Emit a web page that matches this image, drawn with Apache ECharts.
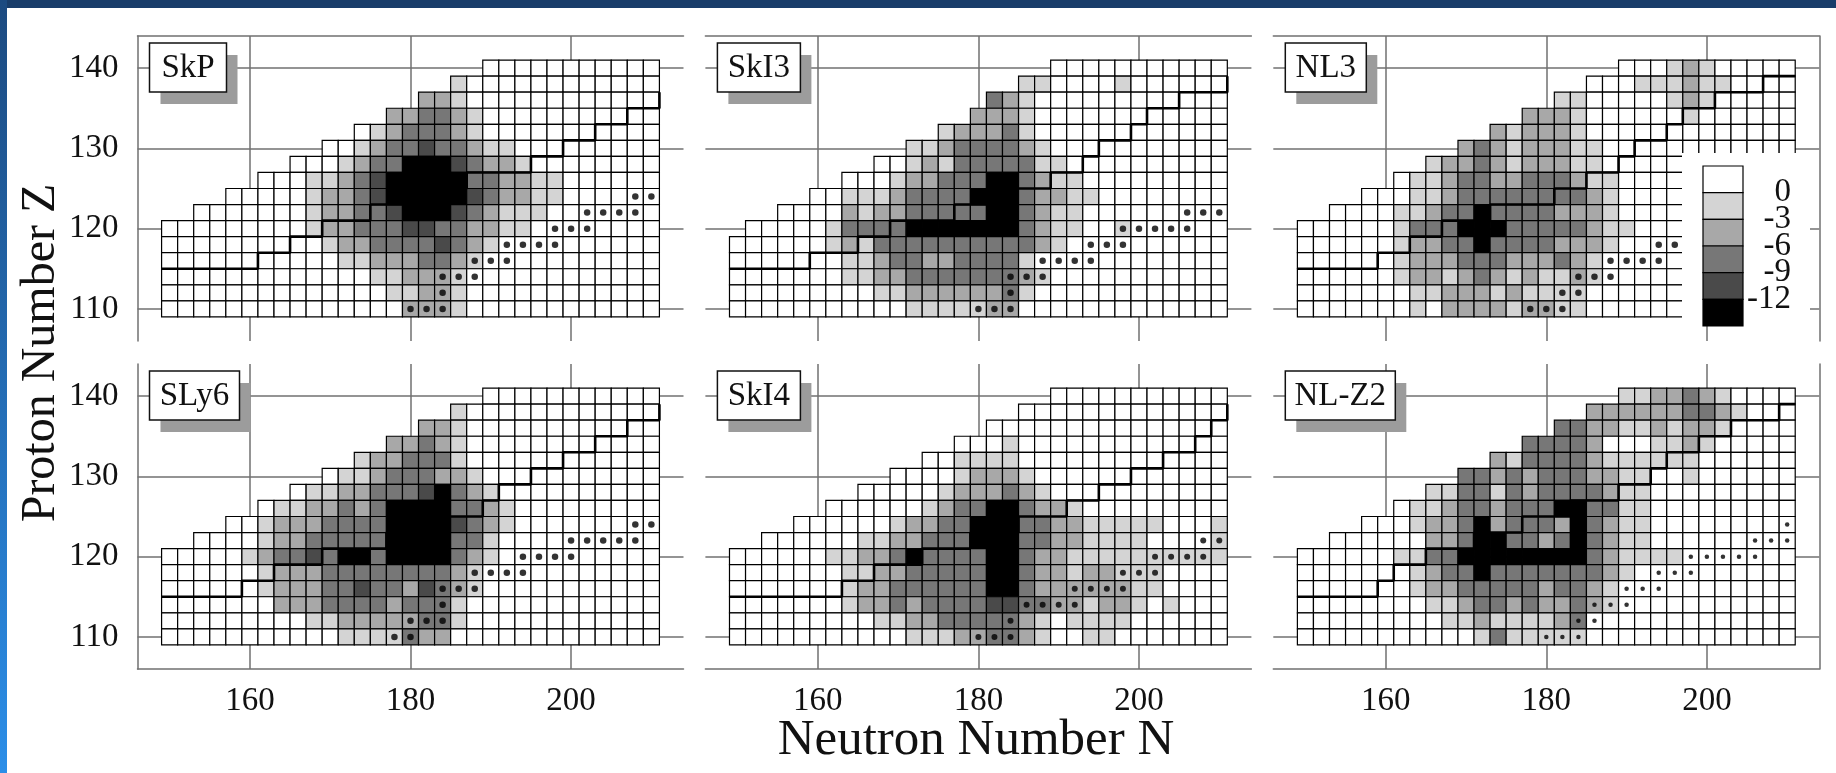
<!DOCTYPE html>
<html>
<head>
<meta charset="utf-8">
<script src="https://cdn.jsdelivr.net/npm/echarts@6/dist/echarts.min.js"></script>
<style>
  html, body { margin: 0; padding: 0; background: #fff; }
  #chart { position: absolute; left: 0; top: 0; width: 1836px; height: 773px; }
  #topbar { position: absolute; left: 0; top: 0; width: 1836px; height: 8px; background: #193d6a; }
  #leftbar { position: absolute; left: 0; top: 0; width: 7px; height: 773px;
             background: linear-gradient(#1c4a80, #2b8ee8); }
</style>
</head>
<body>
<div id="chart"></div>
<div id="topbar"></div>
<div id="leftbar"></div>
<script>
// even-even nuclei on the map: columns are N, rows are Z (top row first)
const neutronNumbers = [150, 152, 154, 156, 158, 160, 162, 164, 166, 168, 170, 172, 174, 176, 178, 180,
                        182, 184, 186, 188, 190, 192, 194, 196, 198, 200, 202, 204, 206, 208, 210];
const protonNumbers = [140, 138, 136, 134, 132, 130, 128, 126, 124, 122, 120, 118, 116, 114, 112, 110];
const neutronTicks = [160, 180, 200];
const protonTicks = [110, 120, 130, 140];
const colorbarTicks = [0, -3, -6, -9, -12];
const colorbarBands = [[3, 0], [0, -3], [-3, -6], [-6, -9], [-9, -12], [-12, -15]];

// shell correction band (MeV) for each digit used in the maps
const bandEnergy = [1.5, -1.5, -4.5, -7.5, -10.5, -13.5];

// each row: [first column on the map, first shaded column, band digits, end column]
// columns after the digits are unshaded (band 0)
const skpMap = [
  [20, 20, ''], [18, 18, '1'], [16, 16, '221'], [14, 14, '223321'],
  [12, 13, '1233321'], [10, 12, '1233433211'], [8, 11, '123355543221'],
  [6, 9, '1123455555332211'], [4, 9, '1223455555432211'], [2, 9, '122334555432111'],
  [0, 9, '12233344332211'], [0, 10, '12233334321'], [0, 11, '112223321'],
  [0, 13, '112221'], [0, 14, '11221'], [0, 15, '2221']
];
const ski3Map = [
  [20, 20, ''], [18, 18, '1100001'], [16, 16, '321'], [15, 15, '2221'],
  [13, 13, '122231'], [11, 11, '112333321'], [9, 11, '1213333311'],
  [7, 10, '122333553211'], [5, 7, '1112333355532211'], [3, 7, '212233333553211'],
  [1, 6, '1333355555553211001'], [0, 6, '121333333333321'], [0, 7, '112332233331'],
  [0, 7, '1122333333321'], [0, 9, '1122222231'], [0, 11, '1111122']
];
const nl3Map = [
  [20, 23, '121'], [18, 21, '111211'], [16, 16, '1100000121'], [14, 14, '22210000001'],
  [12, 12, '212221'], [10, 10, '232122211'], [8, 8, '12232122211', 24],
  [6, 7, '1123322333211', 24], [4, 7, '1123333333321', 24], [2, 6, '11233533332221', 24],
  [0, 6, '133355533333211', 24], [0, 6, '12233533332221', 24], [0, 6, '1222333222321', 24],
  [0, 6, '1221232121121', 24], [0, 7, '11222121111', 24], [0, 7, '10222212211', 24]
];
const sly6Map = [
  [20, 20, ''], [18, 18, '1'], [16, 16, '221'], [14, 14, '22321'],
  [12, 12, '1223331'], [10, 11, '112333221'], [8, 9, '112233345321'],
  [6, 7, '112232355553321'], [4, 6, '1222333355554321'], [2, 6, '122333335555331'],
  [0, 5, '1233435535555321'], [0, 6, '12223333333321'], [0, 6, '12223343324321'],
  [0, 7, '222333323331'], [0, 9, '1122222331'], [0, 11, '1111322']
];
const ski4Map = [
  [20, 20, ''], [18, 18, ''], [16, 16, ''], [14, 17, '1'],
  [12, 14, '1111'], [10, 14, '12221'], [8, 13, '1222321'],
  [6, 12, '1233553221'], [4, 10, '122335553322111110001'], [2, 8, '11223335553322111100001'],
  [0, 6, '1122353333553221111111111'], [0, 7, '11223333355322122111'], [0, 7, '12233333355322222211'],
  [0, 7, '122323333443322122101'], [0, 9, '1122333332101111'], [0, 11, '1112233210011']
];
const nlz2Map = [
  [20, 20, '1122321'], [18, 18, '2222223321'], [16, 16, '33221121221'], [14, 14, '333320001121'],
  [12, 12, '2133332111111'], [10, 10, '332323332211001'], [8, 8, '11331323333211'],
  [6, 7, '112332333553311'], [4, 7, '122352333253211'], [2, 8, '22355332353211'],
  [0, 6, '113355555555321111'], [0, 7, '12335333333321'], [0, 7, '1223333323321'],
  [0, 8, '112332322321'], [0, 9, '112111123'], [0, 11, '1311111']
];

// thick staircase line of each model
const skpStep = [[149,115],[161,115],[161,117],[165,117],[165,119],[169,119],[169,121],[175,121],[175,123],
  [181,123],[181,125],[187,125],[187,127],[195,127],[195,129],[199,129],[199,131],[203,131],[203,133],
  [207,133],[207,135],[211,135],[211,137]];
const ski3Step = [[149,115],[159,115],[159,117],[165,117],[165,119],[169,119],[169,121],[177,121],[177,123],
  [183,123],[183,125],[189,125],[189,127],[193,127],[193,129],[195,129],[195,131],[199,131],[199,133],
  [201,133],[201,135],[205,135],[205,137],[211,137],[211,139]];
const nl3Step = [[149,115],[159,115],[159,117],[163,117],[163,119],[167,119],[167,121],[173,121],[173,123],
  [181,123],[181,125],[185,125],[185,127],[189,127],[189,129],[191,129],[191,131],[195,131],[195,133],
  [197,133],[197,135],[201,135],[201,137],[207,137],[207,139],[211,139]];
const sly6Step = [[149,115],[159,115],[159,117],[163,117],[163,119],[169,119],[169,121],[177,121],[177,123],
  [183,123],[183,125],[189,125],[189,127],[191,127],[191,129],[195,129],[195,131],[199,131],[199,133],
  [203,133],[203,135],[207,135],[207,137],[211,137],[211,139]];
const ski4Step = [[149,115],[163,115],[163,117],[167,117],[167,119],[173,119],[173,121],[179,121],[179,123],
  [185,123],[185,125],[191,125],[191,127],[195,127],[195,129],[199,129],[199,131],[203,131],[203,133],
  [207,133],[207,135],[209,135],[209,137],[211,137],[211,139]];
const nlz2Step = [[149,115],[159,115],[159,117],[161,117],[161,119],[165,119],[165,121],[171,121],[171,123],
  [177,123],[177,125],[183,125],[183,127],[189,127],[189,129],[193,129],[193,131],[195,131],[195,133],
  [199,133],[199,135],[203,135],[203,137],[209,137],[209,139],[211,139]];

// marked nuclei
const skpDots = [[180,110],[182,110],[184,110],[184,112],[184,114],[186,114],[188,114],[188,116],[190,116],
  [192,116],[192,118],[194,118],[196,118],[198,118],[198,120],[200,120],[202,120],[202,122],[204,122],
  [206,122],[208,122],[208,124],[210,124]];
const ski3Dots = [[180,110],[182,110],[184,110],[184,112],[184,114],[186,114],[188,114],[188,116],[190,116],
  [192,116],[194,116],[194,118],[196,118],[198,118],[198,120],[200,120],[202,120],[204,120],[206,120],
  [206,122],[208,122],[210,122]];
const nl3Dots = [[178,110],[180,110],[182,110],[182,112],[184,112],[184,114],[186,114],[188,114],[188,116],
  [190,116],[192,116],[194,116],[194,118],[196,118]];
const sly6Dots = [[178,110],[180,110],[180,112],[182,112],[184,112],[184,114],[184,116],[186,116],[188,116],
  [188,118],[190,118],[192,118],[194,118],[194,120],[196,120],[198,120],[200,120],[200,122],[202,122],
  [204,122],[206,122],[208,122],[208,124],[210,124]];
const ski4Dots = [[180,110],[182,110],[184,110],[184,112],[186,114],[188,114],[190,114],[192,114],[192,116],
  [194,116],[196,116],[198,116],[198,118],[200,118],[202,118],[202,120],[204,120],[206,120],[208,120],
  [208,122],[210,122]];
const nlz2Dots = [[180,110],[182,110],[184,110],[184,112],[186,112],[186,114],[188,114],[190,114],[190,116],
  [192,116],[194,116],[194,118],[196,118],[198,118],[198,120],[200,120],[202,120],[204,120],[206,120],
  [206,122],[208,122],[210,122],[210,124]];

const modelNames = ['SkP', 'SkI3', 'NL3', 'SLy6', 'SkI4', 'NL-Z2'];
const maps = [skpMap, ski3Map, nl3Map, sly6Map, ski4Map, nlz2Map];
const steps = [skpStep, ski3Step, nl3Step, sly6Step, ski4Step, nlz2Step];
const dots = [skpDots, ski3Dots, nl3Dots, sly6Dots, ski4Dots, nlz2Dots];

// layout
const FONT = '"Liberation Serif", "Times New Roman", serif';
const gridLeft = [137.5, 705.4, 1273.3];
const gridTop = [36, 364];
const GW = 546, GH = 305;
const dotSize = [6.5, 6.5, 6.5, 6.5, 6, 4.5];
const boxWidth = [77, 83, 81, 90, 83, 110];
const bandColors = ['#ffffff', '#d4d4d4', '#a8a8a8', '#777777', '#4a4a4a', '#000000'];
const gridColor = '#707070';

function mapCells(map) {
  const out = [];
  map.forEach(function (row, k) {
    const lead = row[0], start = row[1], digits = row[2], end = row[3] || neutronNumbers.length;
    for (let j = lead; j < end; j++) {
      const idx = j - start;
      const band = (idx >= 0 && idx < digits.length) ? Number(digits[idx]) : 0;
      out.push([neutronNumbers[j], protonNumbers[k], bandEnergy[band]]);
    }
  });
  return out;
}

function renderCell(params, api) {
  const p = api.coord([api.value(0) - 1, api.value(1) + 1]);
  const s = api.size([2, 2]);
  return {
    type: 'rect',
    shape: { x: p[0], y: p[1], width: s[0], height: s[1] },
    style: { fill: api.visual('color'), stroke: '#000', lineWidth: 1.2 }
  };
}

function renderBand(params, api) {
  const p0 = api.coord([0, api.value(0)]);
  const p1 = api.coord([1, api.value(1)]);
  return {
    type: 'rect',
    shape: { x: p0[0], y: p0[1], width: p1[0] - p0[0], height: p1[1] - p0[1] },
    style: { fill: api.visual('color'), stroke: '#000', lineWidth: 1.2 }
  };
}

// gridlines only at the labelled values (ticks run every 2 units)
const xSplitColors = [];
for (let i = 0; i < 10; i++) xSplitColors.push((146 + 2 * i) % 20 === 0 ? gridColor : 'rgba(0,0,0,0)');
const ySplitColors = [];
for (let i = 0; i < 5; i++) ySplitColors.push((106 + 2 * i) % 10 === 0 ? gridColor : 'rgba(0,0,0,0)');

const grids = [], xAxes = [], yAxes = [], series = [], cellSeries = [];
const labelStyle = { color: '#111', fontFamily: FONT, fontSize: 33 };

modelNames.forEach(function (name, i) {
  const col = i % 3, row = Math.floor(i / 3);
  grids.push({ left: gridLeft[col], top: gridTop[row], width: GW, height: GH });
  xAxes.push({
    type: 'value', gridIndex: i, min: 146, max: 214, interval: 2,
    position: row === 0 ? 'top' : 'bottom',
    axisLine: { show: true, onZero: false, lineStyle: { color: gridColor, width: 1.5 } },
    axisTick: { show: false },
    axisLabel: Object.assign({
      show: row === 1, margin: 16,
      formatter: function (v) { return neutronTicks.indexOf(v) >= 0 ? String(v) : ''; }
    }, labelStyle),
    splitLine: { show: true, lineStyle: { color: xSplitColors, width: 1.5 } }
  });
  yAxes.push({
    type: 'value', gridIndex: i, min: 106, max: 144, interval: 2,
    position: col === 2 ? 'right' : 'left',
    axisLine: { show: col !== 1, onZero: false, lineStyle: { color: gridColor, width: 1.5 } },
    axisTick: { show: false },
    axisLabel: Object.assign({
      show: col === 0, margin: 19,
      formatter: function (v) { return protonTicks.indexOf(v) >= 0 ? String(v) : ''; }
    }, labelStyle),
    splitLine: { show: true, lineStyle: { color: ySplitColors, width: 1.5 } }
  });
  cellSeries.push(series.length);
  series.push({
    type: 'custom', name: name, xAxisIndex: i, yAxisIndex: i, z: 2,
    renderItem: renderCell, data: mapCells(maps[i]), encode: { x: 0, y: 1 }
  });
  series.push({
    type: 'line', xAxisIndex: i, yAxisIndex: i, z: 3, data: steps[i],
    showSymbol: false, symbol: 'none', silent: true, animation: false,
    lineStyle: { color: '#000', width: 2.6 }
  });
  series.push({
    type: 'scatter', xAxisIndex: i, yAxisIndex: i, z: 4, data: dots[i],
    symbolSize: dotSize[i], itemStyle: { color: '#000' }, silent: true
  });
});

// colour scale
grids.push({ left: 1703, top: 166, width: 40, height: 160 });
xAxes.push({ type: 'value', gridIndex: 6, min: 0, max: 1, show: false });
yAxes.push({
  type: 'value', gridIndex: 6, min: -15, max: 3, interval: 3, position: 'right',
  axisLine: { show: false }, axisTick: { show: false }, splitLine: { show: false },
  axisLabel: { show: false }
});
cellSeries.push(series.length);
series.push({
  type: 'custom', xAxisIndex: 6, yAxisIndex: 6, z: 60, renderItem: renderBand,
  data: colorbarBands.map(function (b) { return [b[0], b[1], (b[0] + b[1]) / 2]; }),
  encode: { y: [0, 1] }
});

const graphics = [
  // white backing of the colour scale
  { type: 'rect', z: 40, shape: { x: 1682, y: 153, width: 128, height: 173 }, style: { fill: '#fff' } },
  { type: 'text', z: 55, x: 976, y: 741,
    style: { text: 'Neutron Number N', font: '51px ' + FONT, fill: '#111', align: 'center', verticalAlign: 'middle' } },
  { type: 'text', z: 55, x: 41, y: 353, rotation: Math.PI / 2,
    style: { text: 'Proton Number Z', font: '48px ' + FONT, fill: '#111', align: 'center', verticalAlign: 'middle' } }
];
modelNames.forEach(function (name, i) {
  const x = gridLeft[i % 3] + 12, y = gridTop[Math.floor(i / 3)] + 7, w = boxWidth[i];
  graphics.push({ type: 'rect', z: 50, shape: { x: x + 11, y: y + 12, width: w, height: 49 }, style: { fill: '#9c9c9c' } });
  graphics.push({ type: 'rect', z: 51, shape: { x: x, y: y, width: w, height: 49 },
    style: { fill: '#fff', stroke: '#111', lineWidth: 1.5 } });
  graphics.push({ type: 'text', z: 52, x: x + w / 2, y: y + 25,
    style: { text: name, font: '33px ' + FONT, fill: '#111', align: 'center', verticalAlign: 'middle' } });
});

const chart = echarts.init(document.getElementById('chart'), null, { renderer: 'canvas' });
chart.setOption({
  animation: false,
  grid: grids,
  xAxis: xAxes,
  yAxis: yAxes,
  visualMap: {
    type: 'piecewise', show: false, dimension: 2, seriesIndex: cellSeries,
    pieces: [
      { gt: 0, color: bandColors[0] },
      { gt: -3, lte: 0, color: bandColors[1] },
      { gt: -6, lte: -3, color: bandColors[2] },
      { gt: -9, lte: -6, color: bandColors[3] },
      { gt: -12, lte: -9, color: bandColors[4] },
      { lte: -12, color: bandColors[5] }
    ]
  },
  graphic: graphics,
  series: series
});

// colour scale labels, right-aligned next to the bar at the band boundaries
colorbarTicks.forEach(function (v) {
  const y = chart.convertToPixel({ yAxisIndex: 6 }, v);
  graphics.push({ type: 'text', z: 70, x: 1791, y: y,
    style: { text: String(v), font: '33px ' + FONT, fill: '#111', align: 'right', verticalAlign: 'middle' } });
});
chart.setOption({ graphic: graphics });
</script>
</body>
</html>
